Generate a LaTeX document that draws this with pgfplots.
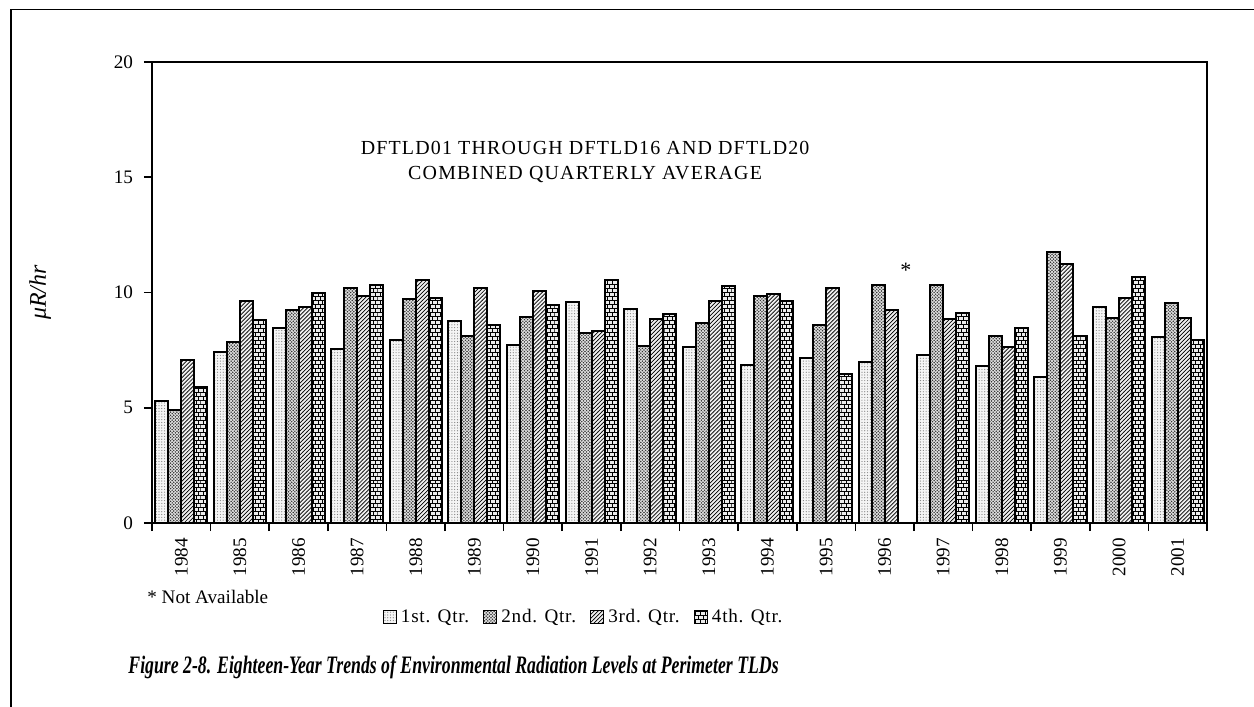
\documentclass[border=0pt]{standalone}
\usepackage{fontspec}
\setmainfont{Liberation Serif}
\usepackage{graphicx}
\usepackage{pgfplots}
\pgfplotsset{compat=1.18}
\usepackage{pgfplotstable}
\usetikzlibrary{patterns}

% small fill patterns for the four quarters
\pgfdeclarepatternformonly{qdots}{\pgfqpoint{-0.5pt}{-0.5pt}}{\pgfqpoint{0.5pt}{0.5pt}}{\pgfqpoint{1.4pt}{1.4pt}}%
{\pgfpathcircle{\pgfpointorigin}{0.3pt}\pgfusepath{fill}}
\pgfdeclarepatternformonly{qcross}{\pgfqpoint{-0.5pt}{-0.5pt}}{\pgfqpoint{1.3pt}{1.3pt}}{\pgfqpoint{1.6pt}{1.6pt}}%
{\pgfpathcircle{\pgfpointorigin}{0.42pt}\pgfpathcircle{\pgfqpoint{0.8pt}{0.8pt}}{0.42pt}\pgfusepath{fill}}
\pgfdeclarepatternformonly{qlines}{\pgfqpoint{-0.5pt}{-0.5pt}}{\pgfqpoint{2.5pt}{2.5pt}}{\pgfqpoint{2pt}{2pt}}%
{\pgfsetlinewidth{0.35pt}\pgfpathmoveto{\pgfqpoint{0pt}{0pt}}\pgfpathlineto{\pgfqpoint{2.1pt}{2.1pt}}\pgfusepath{stroke}}
\pgfdeclarepatternformonly{qbricks}{\pgfqpoint{-0.2pt}{-0.2pt}}{\pgfqpoint{2.6pt}{4.2pt}}{\pgfqpoint{2.4pt}{4pt}}%
{\pgfsetlinewidth{0.35pt}%
\pgfpathmoveto{\pgfqpoint{0pt}{0pt}}\pgfpathlineto{\pgfqpoint{2.4pt}{0pt}}%
\pgfpathmoveto{\pgfqpoint{0pt}{2pt}}\pgfpathlineto{\pgfqpoint{2.4pt}{2pt}}%
\pgfpathmoveto{\pgfqpoint{0pt}{0pt}}\pgfpathlineto{\pgfqpoint{0pt}{2pt}}%
\pgfpathmoveto{\pgfqpoint{1.2pt}{2pt}}\pgfpathlineto{\pgfqpoint{1.2pt}{4pt}}%
\pgfusepath{stroke}}

% quarterly averages, uR/hr (1996 4th qtr not available)
\pgfplotstableread{
x year q1 q2 q3 q4
0 1984 5.30 4.90 7.05 5.90
1 1985 7.42 7.85 9.65 8.80
2 1986 8.45 9.22 9.36 10.00
3 1987 7.57 10.18 9.84 10.34
4 1988 7.92 9.71 10.53 9.78
5 1989 8.75 8.12 10.18 8.61
6 1990 7.72 8.95 10.06 9.44
7 1991 9.57 8.25 8.32 10.55
8 1992 9.30 7.69 8.87 9.08
9 1993 7.63 8.66 9.64 10.27
10 1994 6.85 9.84 9.93 9.64
11 1995 7.14 8.59 10.18 6.45
12 1996 7.00 10.34 9.22 nan
13 1997 7.28 10.34 8.87 9.11
14 1998 6.80 8.12 7.64 8.46
15 1999 6.32 11.74 11.25 8.12
16 2000 9.37 8.88 9.78 10.69
17 2001 8.05 9.53 8.88 7.93
}\tldtable

\newcommand{\lblfont}{\fontsize{9.6}{11.5}\selectfont}

\begin{document}
\begin{tikzpicture}
\begin{axis}[
  scale only axis,
  width=527.5bp, height=230.5bp,
  ybar=0pt, bar width=0.222,
  xmin=-0.5, xmax=17.5, ymin=0, ymax=20,
  ytick={0,5,10,15,20},
  xtick={-0.5,0.5,...,17.5},
  x tick label as interval,
  xticklabels={1984,1985,1986,1987,1988,1989,1990,1991,1992,1993,1994,1995,1996,1997,1998,1999,2000,2001},
  xticklabel style={rotate=90, anchor=east, font=\lblfont},
  yticklabel style={font=\lblfont, xshift=-2bp},
  /pgf/number format/assume math mode=true,
  tick align=outside, xtick pos=left, ytick pos=left,
  major tick length=4bp,
  every tick/.style={black, line width=0.8bp},
  axis line style={line width=1bp},
  ylabel={\textit{μR/hr}},
  ylabel style={at={(axis description cs:-0.106,0.5)}, anchor=center, font=\fontsize{12}{14}\selectfont},
  clip=false,
  every axis plot/.append style={draw=black, line width=1bp},
  legend columns=4,
  legend style={draw=none, at={(axis description cs:0.41,-0.205)}, anchor=center,
    font=\lblfont\addfontfeatures{LetterSpace=4},
    /tikz/every even column/.append style={column sep=5bp}},
  legend image code/.code={\draw[#1, line width=0.6bp] (0bp,-3bp) rectangle (6.5bp,3.5bp);},
]
\addplot[fill=gray!8, postaction={pattern=qdots, pattern color=gray}] table[x=x, y=q1] {\tldtable};
\addplot[fill=gray!20, postaction={pattern=qcross, pattern color=black!80}] table[x=x, y=q2] {\tldtable};
\addplot[fill=gray!12, postaction={pattern=qlines, pattern color=black}] table[x=x, y=q3] {\tldtable};
\addplot[fill=gray!15, postaction={pattern=qbricks, pattern color=black}] table[x=x, y=q4] {\tldtable};
\legend{1st. Qtr.,2nd. Qtr.,3rd. Qtr.,4th. Qtr.}

\node[font=\fontsize{10}{12.3}\selectfont\addfontfeatures{LetterSpace=6}, align=center] at (axis cs:6.89,15.66)
  {DFTLD01 THROUGH DFTLD16 AND DFTLD20\\COMBINED QUARTERLY AVERAGE};
\node[font=\fontsize{11}{12}\selectfont] at (axis cs:12.36,10.95) {*};
\node[font=\lblfont, anchor=west, inner sep=0pt] at (axis cs:-0.585,-3.21) {* Not Available};
\node[font=\fontsize{12.6}{14}\selectfont\bfseries\itshape] at (axis cs:4.645,-6.25)
  {\scalebox{0.707}[1]{Figure 2-8. Eighteen-Year Trends of Environmental Radiation Levels at Perimeter TLDs}};
\end{axis}
\draw[line width=0.8bp] (-70.5bp,-92bp) -- (-70.5bp,256.75bp) -- (551bp,256.75bp);
\pgfresetboundingbox
\path[use as bounding box] (-76bp,-92bp) rectangle (551bp,261.5bp);
\end{tikzpicture}
\end{document}
